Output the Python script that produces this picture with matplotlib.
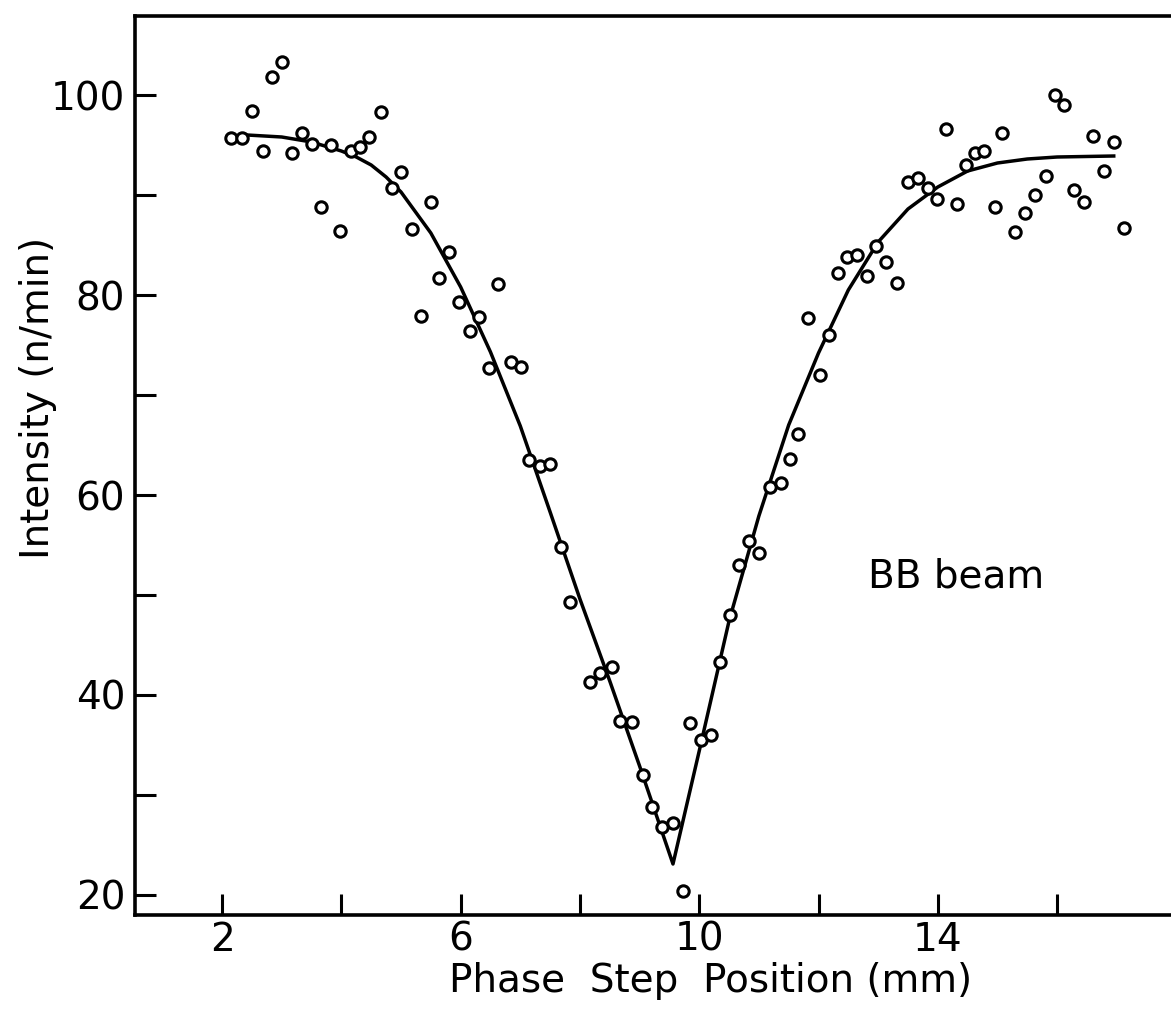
import matplotlib
matplotlib.use("Agg")
import matplotlib.pyplot as plt
from matplotlib.ticker import FixedLocator, FixedFormatter

# ---- data ----
x_data = [2.15, 2.34, 2.50, 2.69, 2.83, 3.00, 3.18, 3.34, 3.51, 3.66, 3.83, 3.98,
          4.16, 4.31, 4.46, 4.67, 4.85, 5.00, 5.18, 5.33, 5.50, 5.64, 5.81, 5.98,
          6.15, 6.31, 6.48, 6.62, 6.84, 7.01, 7.15, 7.33, 7.50, 7.69, 7.84, 8.17,
          8.34, 8.53, 8.68, 8.87, 9.05, 9.20, 9.37, 9.56, 9.72, 9.85, 10.03, 10.19,
          10.35, 10.52, 10.67, 10.84, 11.00, 11.18, 11.37, 11.52, 11.66, 11.82,
          12.02, 12.17, 12.32, 12.47, 12.64, 12.81, 12.97, 13.13, 13.32, 13.50,
          13.66, 13.83, 13.98, 14.13, 14.32, 14.47, 14.63, 14.78, 14.96, 15.08,
          15.30, 15.47, 15.63, 15.81, 15.97, 16.12, 16.29, 16.45, 16.61, 16.79,
          16.96, 17.13]
y_data = [95.7, 95.7, 98.4, 94.4, 101.8, 103.3, 94.2, 96.2, 95.1, 88.8, 95.0, 86.4,
          94.4, 94.8, 95.8, 98.3, 90.7, 92.3, 86.6, 77.9, 89.3, 81.7, 84.3, 79.3,
          76.4, 77.8, 72.7, 81.1, 73.3, 72.8, 63.5, 62.9, 63.1, 54.8, 49.3, 41.3,
          42.2, 42.8, 37.4, 37.3, 32.0, 28.8, 26.8, 27.2, 20.4, 37.2, 35.5, 36.0,
          43.3, 48.0, 53.0, 55.4, 54.2, 60.8, 61.2, 63.6, 66.1, 77.7,
          72.0, 76.0, 82.2, 83.8, 84.0, 81.9, 84.9, 83.3, 81.2, 91.3,
          91.7, 90.7, 89.6, 96.6, 89.1, 93.0, 94.2, 94.4, 88.8, 96.2,
          86.3, 88.2, 90.0, 91.9, 100.0, 99.0, 90.5, 89.3, 95.9, 92.4,
          95.3, 86.7]

fit_x = [2.42, 3.0, 3.5, 4.0, 4.25, 4.5, 4.75, 5.0, 5.5, 6.0, 6.5, 7.0, 7.5, 8.0,
         8.5, 9.0, 9.56, 10.0, 10.5, 11.0, 11.5, 12.0, 12.5, 13.0, 13.5, 14.0,
         14.5, 15.0, 15.5, 16.0, 16.95]
fit_y = [96.0, 95.8, 95.3, 94.4, 93.8, 93.0, 91.8, 90.3, 86.2, 80.8, 74.3, 66.9,
         58.3, 49.6, 41.4, 32.9, 23.1, 34.4, 47.4, 57.9, 67.0, 74.2, 80.5, 85.3,
         88.6, 90.8, 92.4, 93.2, 93.6, 93.8, 93.9]

x_ticks = [2, 4, 6, 8, 10, 12, 14, 16]
x_tick_labels = ["2", "", "6", "", "10", "", "14", ""]
y_ticks = [20, 30, 40, 50, 60, 70, 80, 90, 100]
y_tick_labels = ["20", "", "40", "", "60", "", "80", "", "100"]

# ---- figure ----
W, H = 1171, 1009
fig = plt.figure(figsize=(W / 100, H / 100), dpi=100)
ax = fig.add_axes([135 / W, 1 - 915 / H, 1 - 135 / W, (915 - 16) / H])

ax.plot(fit_x, fit_y, color="black", lw=2.5, zorder=2)
ax.plot(x_data, y_data, linestyle="none", marker="o", ms=8.2, mew=2.2,
        mfc="white", mec="black", zorder=3)

ax.set_xlim(0.54, 17.91)
ax.set_ylim(18.0, 107.9)

ax.xaxis.set_major_locator(FixedLocator(x_ticks))
ax.xaxis.set_major_formatter(FixedFormatter(x_tick_labels))
ax.yaxis.set_major_locator(FixedLocator(y_ticks))
ax.yaxis.set_major_formatter(FixedFormatter(y_tick_labels))

ax.tick_params(axis="both", direction="in", length=15, width=2.2,
               labelsize=28, pad=7, colors="black")
ax.tick_params(axis="x", pad=4)

for side in ["left", "bottom", "top"]:
    ax.spines[side].set_linewidth(2.6)
ax.spines["right"].set_visible(False)

ax.text(12.83, 50.8, "BB beam", fontsize=28, ha="left", va="baseline")

fig.text(38 / W, 1 - 398 / H, "Intensity (n/min)", rotation=90,
         ha="center", va="center", fontsize=28)
fig.text(711 / W, 1 - 992 / H, "Phase  Step  Position (mm)",
         ha="center", va="baseline", fontsize=28)

fig.savefig("out.png", dpi=100)
